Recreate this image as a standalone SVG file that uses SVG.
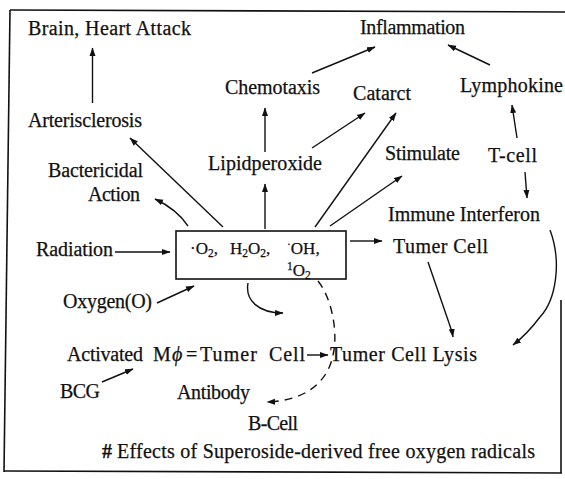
<svg xmlns="http://www.w3.org/2000/svg" width="565" height="479" viewBox="0 0 565 479" font-family="'Liberation Serif', 'Times New Roman', serif">
<style>
text{font-size:20px;fill:#111;stroke:#111;stroke-width:0.25}
.bx{font-size:17px}
.sub{font-size:11.5px}
.ln{fill:none;stroke:#111;stroke-width:1.4}
.fr{fill:none;stroke:#111;stroke-width:1.6}
.ds{fill:none;stroke:#111;stroke-width:1.4;stroke-dasharray:8 6}
</style>
<defs>
<marker id="ah" markerUnits="userSpaceOnUse" markerWidth="9" markerHeight="7" refX="8" refY="3.5" orient="auto">
<path d="M0,0.5 L8.5,3.5 L0,6.5 z" fill="#111"/>
</marker>
</defs>
<rect width="565" height="479" fill="#fff"/>
<g id="frame">
<path class="fr" d="M10,10 L565,12"/>
<path class="fr" d="M10,10 L4,472"/>
<path class="fr" d="M4,471 L562,473"/>
<path class="fr" d="M561,300 L561,473"/>
</g>
<g id="brain"><text x="28" y="35" textLength="163">Brain, Heart Attack</text></g>
<g id="inflammation"><text x="360" y="34" textLength="105">Inflammation</text></g>
<g id="chemotaxis"><text x="225" y="94" textLength="95">Chemotaxis</text></g>
<g id="catarct"><text x="353" y="100" textLength="58">Catarct</text></g>
<g id="lymphokine"><text x="460" y="92" textLength="103">Lymphokine</text></g>
<g id="arterisclerosis"><text x="28" y="127" textLength="114">Arterisclerosis</text></g>
<g id="lipidperoxide"><text x="208" y="170" textLength="114">Lipidperoxide</text></g>
<g id="stimulate"><text x="385" y="160" textLength="75">Stimulate</text></g>
<g id="tcell"><text x="488" y="162" textLength="49">T-cell</text></g>
<g id="bactericidal"><text x="48" y="177" textLength="95">Bactericidal</text><text x="88" y="201" textLength="52">Action</text></g>
<g id="interferon"><text x="388" y="221" textLength="152">Immune Interferon</text></g>
<g id="radiation"><text x="36" y="256" textLength="77">Radiation</text></g>
<g id="tumer"><text x="393" y="253" textLength="95">Tumer Cell</text></g>
<g id="oxygen"><text x="63" y="308" textLength="89">Oxygen(O)</text></g>
<g id="radicals">
<rect x="176" y="231" width="170" height="48" fill="none" stroke="#111" stroke-width="1.6"/>
<text class="bx" x="190" y="254">·O<tspan class="sub" dy="3">2</tspan><tspan dy="-3">,</tspan><tspan x="230">H</tspan><tspan class="sub" dy="3">2</tspan><tspan dy="-3">O</tspan><tspan class="sub" dy="3">2</tspan><tspan dy="-3">,</tspan><tspan x="287" class="sub" dy="-6">·</tspan><tspan dy="6">OH,</tspan></text>
<text class="bx" x="287" y="276"><tspan class="sub" dy="-6">1</tspan><tspan dy="6">O</tspan><tspan class="sub" dy="3">2</tspan></text>
</g>
<g id="activated">
<text x="67" y="361" textLength="76">Activated</text>
<text x="153" y="361">M</text>
<text x="172" y="361" font-style="italic">ϕ</text>
<text x="186" y="361">=</text>
<text x="200" y="361" textLength="57">Tumer</text>
<text x="269" y="361" textLength="36">Cell</text>
</g>
<g id="lysis"><text x="330" y="361" textLength="147">Tumer Cell Lysis</text></g>
<g id="bcg"><text x="60" y="398" textLength="40">BCG</text></g>
<g id="antibody"><text x="177" y="399" textLength="73">Antibody</text></g>
<g id="bcell"><text x="248" y="430" textLength="50">B-Cell</text></g>
<g id="caption"><text x="102" y="458" font-weight="bold">#</text><text x="117" y="458" textLength="418">Effects of Superoside-derived free oxygen radicals</text></g>
<g id="connectors">
<path class="ln" d="M92.5,103 L92.5,48" marker-end="url(#ah)"/>
<path class="ln" d="M265,152 L265,108" marker-end="url(#ah)"/>
<path class="ln" d="M312,73 L375,47" marker-end="url(#ah)"/>
<path class="ln" d="M490,65 L448,45" marker-end="url(#ah)"/>
<path class="ln" d="M517,138 L512,105" marker-end="url(#ah)"/>
<path class="ln" d="M525,172 L527,198" marker-end="url(#ah)"/>
<path class="ln" d="M312,148 L365,113" marker-end="url(#ah)"/>
<path class="ln" d="M315,227 L396,113" marker-end="url(#ah)"/>
<path class="ln" d="M330,226 L402,176" marker-end="url(#ah)"/>
<path class="ln" d="M265,229 L265,184" marker-end="url(#ah)"/>
<path class="ln" d="M223,227 L130,138" marker-end="url(#ah)"/>
<path class="ln" d="M188,226 C182,217 172,207 155,199" marker-end="url(#ah)"/>
<path class="ln" d="M115,252 L170,252" marker-end="url(#ah)"/>
<path class="ln" d="M157,303 L194,286" marker-end="url(#ah)"/>
<path class="ln" d="M350,241 L382,241" marker-end="url(#ah)"/>
<path class="ln" d="M248,283 C245,300 258,313 283,313" marker-end="url(#ah)"/>
<path class="ds" d="M318,281 C333,300 338,335 333,355 C328,382 305,401 267,402" marker-end="url(#ah)"/>
<path class="ln" d="M428,262 L449,323 Q452,331 453,337" marker-end="url(#ah)"/>
<path class="ln" d="M550,230 C562,262 556,300 540,317 C531,329 522,338 513,345" marker-end="url(#ah)"/>
<path class="ln" d="M102,382 L133,369" marker-end="url(#ah)"/>
<path class="ln" d="M307,355 L328,355" marker-end="url(#ah)"/>
</g>
</svg>
